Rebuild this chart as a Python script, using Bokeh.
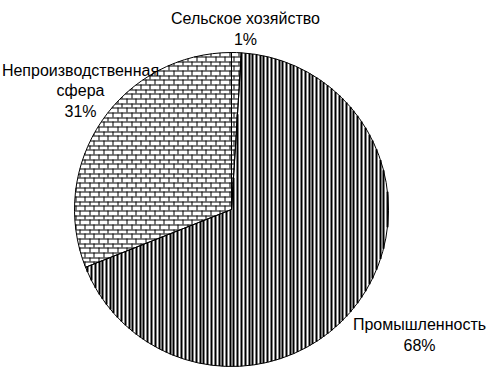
import math

from bokeh.core.properties import value
from bokeh.embed import file_html
from bokeh.models import ColumnDataSource, Range1d
from bokeh.plotting import figure
from bokeh.resources import INLINE

# Structure of the economy, percent of total
sectors = ["Сельское хозяйство", "Промышленность", "Непроизводственная сфера"]
shares = [1, 68, 31]
label_lines = [
    ["Сельское хозяйство", "1%"],
    ["Промышленность", "68%"],
    ["Непроизводственная", "сфера", "31%"],
]
fills = ["brick", "stripes", "brick"]

# Layout (pixels, top-left origin)
W, H = 489, 375
CX, CY, R = 231, 209, 157
label_center_x = [245, 419, 80]
label_first_baseline = [18, 324, 69.5]
LINE_STEP = 20.5
BRICK_H = 14 / 3      # brick row height
BRICK_W = 28 / 3      # brick length
STRIPE_STEP = 3.75    # vertical stripe period
STRIPE_W = 2


def angle_of(x, y):
    """Clockwise angle from 12 o'clock of a screen point around the pie centre."""
    return math.atan2(x - CX, -(y - CY)) % (2 * math.pi)


def clip_to_slice(x0, y0, x1, y1, c0, c1):
    """Return the parts of segment (x0,y0)-(x1,y1) lying inside slice [c0, c1]."""
    dx, dy = x1 - x0, y1 - y0
    fx, fy = x0 - CX, y0 - CY
    a = dx * dx + dy * dy
    b = 2 * (fx * dx + fy * dy)
    c = fx * fx + fy * fy - R * R
    disc = b * b - 4 * a * c
    if a == 0 or disc <= 0:
        return []
    sq = math.sqrt(disc)
    ta = max(0.0, (-b - sq) / (2 * a))
    tb = min(1.0, (-b + sq) / (2 * a))
    if ta >= tb:
        return []
    cuts = [ta, tb]
    for ang in (c0, c1):
        ux, uy = math.sin(ang), -math.cos(ang)
        den = dx * uy - dy * ux
        if abs(den) > 1e-12:
            t = ((CX - x0) * uy - (CY - y0) * ux) / den
            if ta < t < tb:
                cuts.append(t)
    cuts.sort()
    out = []
    for s, e in zip(cuts[:-1], cuts[1:]):
        if e - s < 1e-9:
            continue
        m = (s + e) / 2
        th = angle_of(x0 + m * dx, y0 + m * dy)
        if c0 <= th <= c1:
            if out and abs(out[-1][1] - s) < 1e-9:
                out[-1] = (out[-1][0], e)
            else:
                out.append((s, e))
    return [(x0 + s * dx, y0 + s * dy, x0 + e * dx, y0 + e * dy) for s, e in out]


def brick_segments(c0, c1):
    segs = []
    top, bottom = CY - R - 1, CY + R + 1
    left, right = CX - R - 1, CX + R + 1
    k0 = math.floor(top / BRICK_H)
    k1 = math.ceil(bottom / BRICK_H)
    for k in range(k0, k1 + 1):
        ya = round(k * BRICK_H)
        yb = round((k + 1) * BRICK_H)
        segs += clip_to_slice(left, ya + 0.5, right, ya + 0.5, c0, c1)
        shift = (k % 2) * BRICK_W / 2
        j0 = math.floor((left - shift) / BRICK_W)
        j1 = math.ceil((right - shift) / BRICK_W)
        for j in range(j0, j1 + 1):
            xv = round(j * BRICK_W + shift) + 0.5
            segs += clip_to_slice(xv, ya, xv, yb, c0, c1)
    return segs


def stripe_segments(c0, c1):
    segs = []
    left, right = CX - R - 2, CX + R + 2
    j0 = math.floor(left / STRIPE_STEP)
    j1 = math.ceil(right / STRIPE_STEP)
    for j in range(j0, j1 + 1):
        xv = round(j * STRIPE_STEP) + STRIPE_W / 2
        segs += clip_to_slice(xv, CY - R - 2, xv, CY + R + 2, c0, c1)
    return segs


p = figure(width=W, height=H, output_backend="svg", toolbar_location=None,
           x_range=Range1d(0, W), y_range=Range1d(0, H), min_border=0,
           x_axis_location=None, y_axis_location=None)
p.grid.visible = False
p.outline_line_color = None
p.background_fill_color = "white"
p.border_fill_color = "white"

# Slices run clockwise starting at 12 o'clock
total = sum(shares)
bounds = []
cum = 0.0
for share in shares:
    c0 = 2 * math.pi * cum / total
    cum += share
    bounds.append((c0, 2 * math.pi * cum / total))

src = ColumnDataSource(dict(
    x=[CX] * len(shares), y=[H - CY] * len(shares), sector=sectors, share=shares,
    start=[math.pi / 2 - b[0] for b in bounds], end=[math.pi / 2 - b[1] for b in bounds],
))
p.wedge(x="x", y="y", radius=R, start_angle="start", end_angle="end", direction="clock",
        source=src, fill_color="white", line_color=None)

# Fill patterns, clipped to each slice
for kind, (c0, c1) in zip(fills, bounds):
    if kind == "brick":
        segs = brick_segments(c0, c1)
        lw = 1
    else:
        segs = stripe_segments(c0, c1)
        lw = STRIPE_W
    if segs:
        p.segment(x0=[s[0] for s in segs], y0=[H - s[1] for s in segs],
                  x1=[s[2] for s in segs], y1=[H - s[3] for s in segs],
                  line_color="black", line_width=lw, line_cap="butt")

# Slice outlines on top
p.wedge(x="x", y="y", radius=R, start_angle="start", end_angle="end", direction="clock",
        source=src, fill_color=None, line_color="black", line_width=1)

# Labels
tx, ty, tt = [], [], []
for lines, cx, by in zip(label_lines, label_center_x, label_first_baseline):
    for k, line in enumerate(lines):
        tx.append(cx)
        ty.append(H - (by + k * LINE_STEP))
        tt.append(line)
p.text(x=tx, y=ty, text=tt, text_font=value("Liberation Sans"), text_font_size="16px",
       text_color="black", text_align="center", text_baseline="alphabetic")

open("out.html", "w").write(file_html(p, INLINE))
